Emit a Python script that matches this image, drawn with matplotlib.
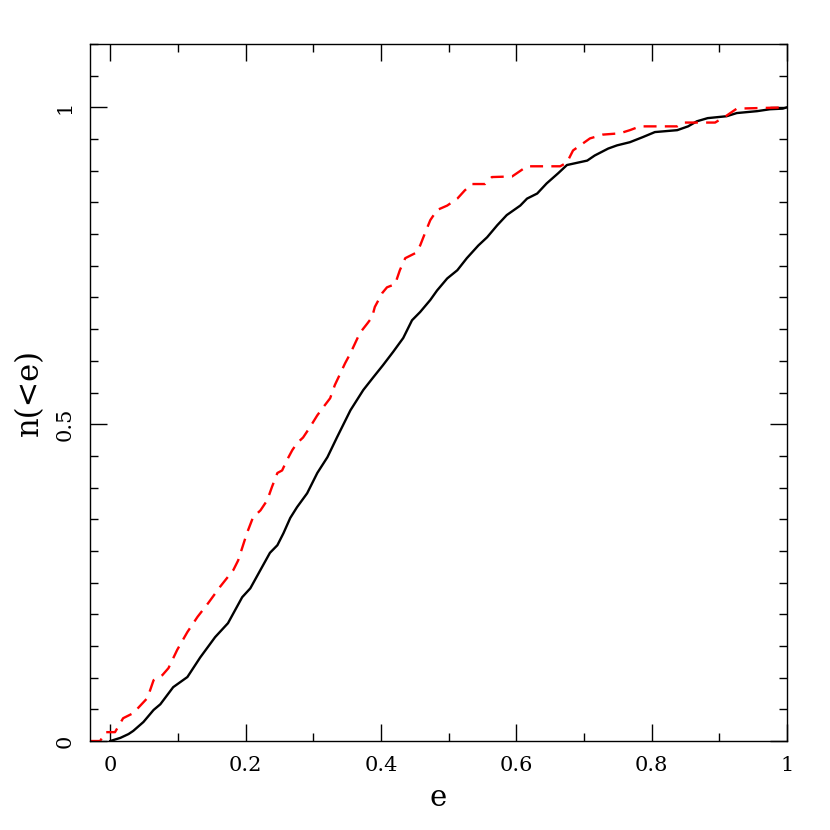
import matplotlib
matplotlib.use('Agg')
import matplotlib.pyplot as plt
from matplotlib.ticker import MultipleLocator, FixedLocator

# cumulative distributions
e_black = [0.000, 0.015, 0.027, 0.034, 0.049, 0.064, 0.074, 0.093, 0.114, 0.133,
           0.155, 0.174, 0.195, 0.207, 0.222, 0.236, 0.247, 0.256, 0.266, 0.276,
           0.291, 0.306, 0.321, 0.335, 0.355, 0.374, 0.388, 0.403, 0.418, 0.433,
           0.446, 0.458, 0.473, 0.483, 0.498, 0.513, 0.527, 0.544, 0.557, 0.572,
           0.586, 0.606, 0.616, 0.631, 0.645, 0.662, 0.675, 0.705, 0.716, 0.736,
           0.749, 0.768, 0.787, 0.805, 0.838, 0.854, 0.867, 0.883, 0.911, 0.926,
           0.956, 0.975, 0.994, 1.000]
n_black = [0.000, 0.005, 0.011, 0.016, 0.030, 0.049, 0.058, 0.085, 0.101, 0.132,
           0.164, 0.186, 0.227, 0.241, 0.270, 0.297, 0.309, 0.328, 0.352, 0.369,
           0.391, 0.423, 0.448, 0.479, 0.522, 0.554, 0.573, 0.593, 0.614, 0.636,
           0.664, 0.677, 0.696, 0.711, 0.730, 0.743, 0.762, 0.782, 0.795, 0.814,
           0.830, 0.845, 0.856, 0.864, 0.880, 0.896, 0.909, 0.916, 0.924, 0.935,
           0.940, 0.945, 0.953, 0.961, 0.964, 0.970, 0.978, 0.983, 0.986, 0.991,
           0.994, 0.997, 0.998, 1.000]

e_red = [-0.030, -0.015, -0.007, 0.007, 0.019, 0.034, 0.055, 0.064, 0.077, 0.086,
         0.099, 0.114, 0.129, 0.145, 0.162, 0.182, 0.189, 0.202, 0.211, 0.222,
         0.232, 0.239, 0.247, 0.254, 0.261, 0.269, 0.276, 0.285, 0.295, 0.306,
         0.315, 0.325, 0.332, 0.340, 0.347, 0.355, 0.362, 0.369, 0.380, 0.387,
         0.391, 0.402, 0.409, 0.421, 0.428, 0.436, 0.451, 0.458, 0.465, 0.473,
         0.483, 0.498, 0.513, 0.524, 0.535, 0.554, 0.564, 0.594, 0.616, 0.665,
         0.675, 0.684, 0.709, 0.728, 0.753, 0.768, 0.783, 0.838, 0.846, 0.894,
         0.911, 0.926, 1.000]
n_red = [0.000, 0.000, 0.014, 0.014, 0.036, 0.044, 0.068, 0.096, 0.104, 0.115,
         0.144, 0.172, 0.196, 0.218, 0.243, 0.270, 0.285, 0.328, 0.353, 0.364,
         0.380, 0.401, 0.423, 0.427, 0.443, 0.459, 0.470, 0.479, 0.495, 0.514,
         0.527, 0.541, 0.562, 0.580, 0.596, 0.612, 0.628, 0.644, 0.659, 0.669,
         0.685, 0.707, 0.716, 0.721, 0.743, 0.762, 0.770, 0.782, 0.801, 0.822,
         0.838, 0.845, 0.856, 0.869, 0.879, 0.879, 0.890, 0.891, 0.907, 0.907,
         0.913, 0.932, 0.951, 0.957, 0.959, 0.964, 0.970, 0.970, 0.976, 0.976,
         0.987, 0.998, 1.000]

x_ticks = [0, 0.2, 0.4, 0.6, 0.8, 1]
x_ticklabels = ['0', '0.2', '0.4', '0.6', '0.8', '1']
y_ticks = [0, 0.5, 1]
y_ticklabels = ['0', '0.5', '1']

plt.rcParams['font.family'] = ['DejaVu Serif']

fig = plt.figure(figsize=(8.3, 8.3), dpi=100)
ax = fig.add_axes([0.1084, 0.1072, 0.8396, 0.8398])

ax.plot(e_black, n_black, color='black', lw=1.7)
ax.plot(e_red, n_red, color='red', lw=1.7, linestyle=(0, (5.5, 3.5)))

ax.set_xlim(-0.03, 1.0)
ax.set_ylim(0, 1.1)

ax.xaxis.set_major_locator(FixedLocator(x_ticks))
ax.set_xticklabels(x_ticklabels)
ax.xaxis.set_minor_locator(MultipleLocator(0.1))
ax.yaxis.set_major_locator(FixedLocator(y_ticks))
ax.set_yticklabels(y_ticklabels, rotation=90, va='center')
ax.yaxis.set_minor_locator(MultipleLocator(0.05))

ax.tick_params(which='both', direction='in', top=True, right=True, width=1.0)
ax.tick_params(which='major', length=12, labelsize=15, pad=11)
ax.tick_params(which='minor', length=6)
for s in ax.spines.values():
    s.set_linewidth(1.0)

ax.set_xlabel('e', fontsize=21, labelpad=6)
ax.set_ylabel('n(<e)', fontsize=22, labelpad=8)

fig.savefig('out.png', dpi=100)
